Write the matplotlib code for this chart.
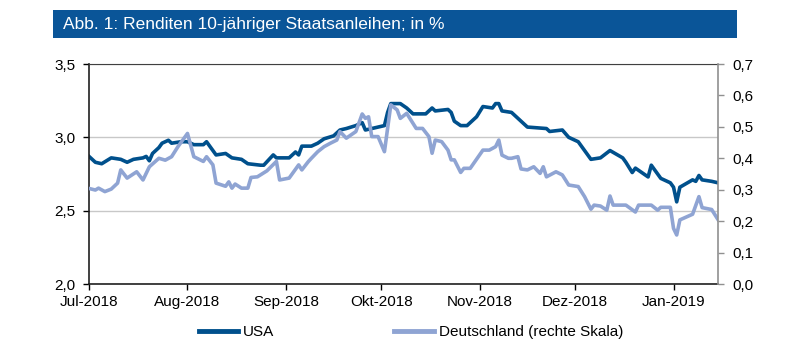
import matplotlib
matplotlib.use("Agg")
import matplotlib.pyplot as plt
import matplotlib.patches as patches
import pandas as pd

plt.rcParams['font.family'] = ['Liberation Sans', 'DejaVu Sans']

# Rendite USA (linke Skala)
usa_dates = [
    "2018-07-01", "2018-07-03", "2018-07-05", "2018-07-08", "2018-07-11", "2018-07-13",
    "2018-07-15", "2018-07-18", "2018-07-19", "2018-07-20", "2018-07-21", "2018-07-23",
    "2018-07-24", "2018-07-26", "2018-07-27", "2018-07-30", "2018-08-01", "2018-08-03",
    "2018-08-06", "2018-08-07", "2018-08-10", "2018-08-13", "2018-08-15", "2018-08-18",
    "2018-08-20", "2018-08-24", "2018-08-25", "2018-08-28", "2018-08-29", "2018-09-02",
    "2018-09-04", "2018-09-05", "2018-09-06", "2018-09-09", "2018-09-11", "2018-09-13",
    "2018-09-16", "2018-09-18", "2018-09-20", "2018-09-23", "2018-09-25", "2018-09-26",
    "2018-09-28", "2018-09-30", "2018-10-02", "2018-10-03", "2018-10-04", "2018-10-07",
    "2018-10-09", "2018-10-11", "2018-10-15", "2018-10-17", "2018-10-18", "2018-10-22",
    "2018-10-23", "2018-10-24", "2018-10-26", "2018-10-28", "2018-10-31", "2018-11-02",
    "2018-11-05", "2018-11-06", "2018-11-07", "2018-11-08", "2018-11-11", "2018-11-14",
    "2018-11-16", "2018-11-22", "2018-11-23", "2018-11-27", "2018-11-29", "2018-12-02",
    "2018-12-04", "2018-12-06", "2018-12-09", "2018-12-12", "2018-12-16", "2018-12-17",
    "2018-12-19", "2018-12-20", "2018-12-24", "2018-12-25", "2018-12-28", "2018-12-31",
    "2019-01-01", "2019-01-02", "2019-01-03", "2019-01-07", "2019-01-08", "2019-01-09",
    "2019-01-10", "2019-01-13", "2019-01-15",
]
usa_values = [
    2.87, 2.83, 2.82, 2.86, 2.85, 2.83,
    2.85, 2.86, 2.87, 2.84, 2.89, 2.93,
    2.96, 2.98, 2.96, 2.97, 2.97, 2.95,
    2.95, 2.97, 2.88, 2.89, 2.86, 2.85,
    2.82, 2.81, 2.81, 2.88, 2.86, 2.86,
    2.90, 2.88, 2.94, 2.94, 2.96, 2.99,
    3.01, 3.05, 3.06, 3.08, 3.10, 3.05,
    3.06, 3.07, 3.08, 3.17, 3.23, 3.23,
    3.20, 3.16, 3.16, 3.20, 3.18, 3.19,
    3.17, 3.11, 3.08, 3.08, 3.14, 3.21,
    3.20, 3.23, 3.23, 3.18, 3.17, 3.11,
    3.07, 3.06, 3.04, 3.05, 3.00, 2.97,
    2.91, 2.85, 2.86, 2.91, 2.86, 2.83,
    2.76, 2.79, 2.73, 2.81, 2.72, 2.69,
    2.66, 2.56, 2.66, 2.71, 2.70, 2.74,
    2.71, 2.70, 2.69,
]

# Rendite Deutschland (rechte Skala)
de_dates = [
    "2018-07-01", "2018-07-03", "2018-07-04", "2018-07-06", "2018-07-08", "2018-07-10",
    "2018-07-11", "2018-07-13", "2018-07-16", "2018-07-18", "2018-07-20", "2018-07-23",
    "2018-07-25", "2018-07-27", "2018-07-29", "2018-08-01", "2018-08-03", "2018-08-06",
    "2018-08-07", "2018-08-09", "2018-08-10", "2018-08-13", "2018-08-14", "2018-08-15",
    "2018-08-16", "2018-08-18", "2018-08-20", "2018-08-21", "2018-08-23", "2018-08-26",
    "2018-08-29", "2018-08-30", "2018-09-02", "2018-09-05", "2018-09-06", "2018-09-08",
    "2018-09-09", "2018-09-11", "2018-09-13", "2018-09-15", "2018-09-17", "2018-09-18",
    "2018-09-20", "2018-09-23", "2018-09-25", "2018-09-26", "2018-09-27", "2018-09-28",
    "2018-09-30", "2018-10-02", "2018-10-04", "2018-10-06", "2018-10-07", "2018-10-09",
    "2018-10-12", "2018-10-14", "2018-10-16", "2018-10-17", "2018-10-18", "2018-10-20",
    "2018-10-22", "2018-10-23", "2018-10-24", "2018-10-26", "2018-10-27", "2018-10-29",
    "2018-11-02", "2018-11-04", "2018-11-06", "2018-11-07", "2018-11-08", "2018-11-10",
    "2018-11-11", "2018-11-13", "2018-11-14", "2018-11-16", "2018-11-18", "2018-11-20",
    "2018-11-21", "2018-11-22", "2018-11-25", "2018-11-27", "2018-11-29", "2018-12-02",
    "2018-12-04", "2018-12-06", "2018-12-07", "2018-12-09", "2018-12-11", "2018-12-12",
    "2018-12-13", "2018-12-17", "2018-12-20", "2018-12-21", "2018-12-25", "2018-12-27",
    "2018-12-28", "2018-12-31", "2019-01-01", "2019-01-02", "2019-01-03", "2019-01-07",
    "2019-01-09", "2019-01-10", "2019-01-13", "2019-01-15",
]
de_values = [
    0.304, 0.299, 0.305, 0.294, 0.302, 0.321,
    0.363, 0.337, 0.357, 0.331, 0.373, 0.400,
    0.394, 0.405, 0.437, 0.479, 0.405, 0.390,
    0.405, 0.379, 0.321, 0.311, 0.325, 0.305,
    0.318, 0.305, 0.305, 0.339, 0.341, 0.360,
    0.390, 0.331, 0.337, 0.379, 0.363, 0.389,
    0.400, 0.421, 0.437, 0.448, 0.458, 0.485,
    0.464, 0.485, 0.541, 0.527, 0.532, 0.469,
    0.469, 0.421, 0.570, 0.554, 0.527, 0.543,
    0.495, 0.495, 0.469, 0.416, 0.458, 0.453,
    0.426, 0.395, 0.395, 0.355, 0.368, 0.368,
    0.426, 0.426, 0.437, 0.458, 0.410, 0.400,
    0.400, 0.405, 0.366, 0.363, 0.373, 0.352,
    0.373, 0.341, 0.357, 0.347, 0.315, 0.310,
    0.278, 0.238, 0.251, 0.248, 0.235, 0.280,
    0.251, 0.251, 0.229, 0.251, 0.251, 0.235,
    0.244, 0.244, 0.177, 0.156, 0.204, 0.222,
    0.278, 0.243, 0.237, 0.205,
]

month_ticks = ["2018-07-01", "2018-08-01", "2018-09-01", "2018-10-01",
               "2018-11-01", "2018-12-01", "2019-01-01"]
month_labels = ["Jul-2018", "Aug-2018", "Sep-2018", "Okt-2018",
                "Nov-2018", "Dez-2018", "Jan-2019"]
left_ticks = [2.0, 2.5, 3.0, 3.5]
right_ticks = [0.0, 0.1, 0.2, 0.3, 0.4, 0.5, 0.6, 0.7]

usa_color = '#00508c'
de_color = '#8fa4d3'
bar_color = '#0a5598'

fig = plt.figure(figsize=(8.06, 3.48), dpi=100)

# blue title band
fig.patches.append(patches.Rectangle((53 / 806, 1 - 38 / 348), 684 / 806, 28 / 348,
                                     transform=fig.transFigure, facecolor=bar_color,
                                     edgecolor='none'))
fig.text(63 / 806, 1 - 24 / 348, "Abb. 1: Renditen 10-jähriger Staatsanleihen; in %",
         color='white', fontsize=12.5, va='center', ha='left')

ax = fig.add_axes([89 / 806, 1 - 284 / 348, 629 / 806, 220 / 348])
ax2 = ax.twinx()

usa_x = pd.to_datetime(usa_dates)
de_x = pd.to_datetime(de_dates)

ax.plot(usa_x, usa_values, color=usa_color, lw=2.6, solid_joinstyle='round', label='USA')
ax2.plot(de_x, de_values, color=de_color, lw=2.6, solid_joinstyle='round',
         label='Deutschland (rechte Skala)')

ax.set_xlim(pd.Timestamp("2018-07-01"), pd.Timestamp("2019-01-15"))
ax.set_ylim(2.0, 3.5)
ax2.set_ylim(0.0, 0.7)

ax.set_yticks(left_ticks)
ax.set_yticklabels([f"{v:.1f}".replace('.', ',') for v in left_ticks])
ax2.set_yticks(right_ticks)
ax2.set_yticklabels([f"{v:.1f}".replace('.', ',') for v in right_ticks])
ax.set_xticks(pd.to_datetime(month_ticks))
ax.set_xticklabels(month_labels)

ax.yaxis.grid(True, color='#c8c8c8', lw=1)
ax.set_axisbelow(True)

ax.tick_params(axis='both', direction='out', length=4, width=1, labelsize=11,
               colors='black', pad=4)
ax.tick_params(axis='y', pad=6)
ax2.tick_params(axis='y', direction='out', length=4, width=1, labelsize=11,
                color='#909090', labelcolor='black', pad=6)

for s in ['left', 'bottom']:
    ax.spines[s].set_color('#202020')
    ax.spines[s].set_linewidth(1.2)
ax.spines['top'].set_color('#404040')
ax.spines['right'].set_visible(False)
for s in ['left', 'bottom', 'top']:
    ax2.spines[s].set_visible(False)
ax2.spines['right'].set_color('#909090')
ax2.spines['right'].set_linewidth(1.2)

h1, l1 = ax.get_legend_handles_labels()
h2, l2 = ax2.get_legend_handles_labels()
leg = fig.legend(h1 + h2, l1 + l2, loc='center left', bbox_to_anchor=(185 / 806, 1 - 332 / 348),
                 ncol=2, frameon=False, fontsize=11, handlelength=2.6, handletextpad=0.3,
                 columnspacing=7.85)
for line in leg.get_lines():
    line.set_linewidth(3.5)

fig.savefig('out.png', dpi=100)
